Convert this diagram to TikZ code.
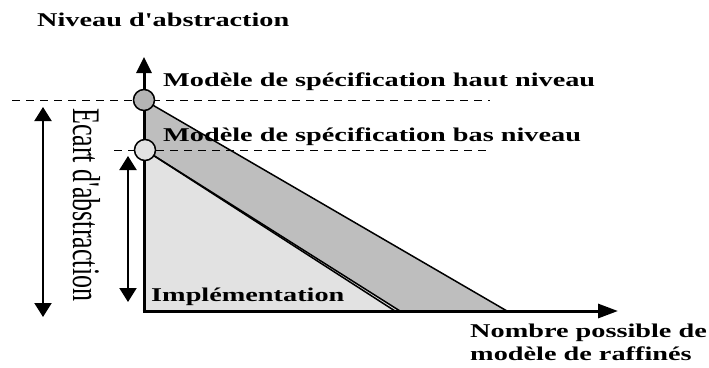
\documentclass[tikz,border=0pt]{standalone}
\usepackage{fontspec}
\setmainfont{Liberation Serif}[Ligatures=TeXOff]
\usetikzlibrary{arrows.meta}
\definecolor{darkfill}{HTML}{BEBEBE}
\definecolor{lightfill}{HTML}{E2E2E2}
\newcommand\widetext[1]{\scalebox{1.45}[1]{#1}}
\begin{document}
\begin{tikzpicture}[x=1pt,y=-1pt,
  lbl/.style={anchor=base west,inner sep=0pt,font=\fontsize{19.5}{22}\selectfont\bfseries},
  guide/.style={line width=1pt,dash pattern=on 8pt off 6pt},
  edge/.style={line width=1.5pt},
  axis/.style={line width=3pt,-{Triangle[length=16pt,width=15pt]}},
  span/.style={line width=2pt,{Triangle[length=14pt,width=17pt]}-{Triangle[length=14pt,width=17pt]}},
  level/.style={circle,draw,line width=1.5pt,minimum size=21pt,inner sep=0pt}]
\useasboundingbox (0,0) rectangle (709,367);

% key points
\coordinate (O)  at (144,311);
\coordinate (H)  at (144,100);
\coordinate (L)  at (145,150);
\coordinate (Hb) at (507,311);
\coordinate (Lb) at (395,311);
\coordinate (Lc) at (400,311);

% shaded refinement regions
\fill[darkfill] (H) -- (Hb) -- (O) -- cycle;
\fill[lightfill] (L) -- (Lc) -- (O) -- cycle;

% dashed level guides
\coordinate (g1a) at (12,100);  \coordinate (g1b) at (490,100);
\coordinate (g2a) at (114,150); \coordinate (g2b) at (490,150);
\draw[guide] (g1a) -- (g1b);
\draw[guide] (g2a) -- (g2b);

% slopes
\draw[edge] (H) -- (Hb);
\draw[edge] (L) -- (Lb);
\draw[edge] (L) -- (Lc);

% axes
\coordinate (Ytop) at (144,57);
\coordinate (Xend) at (618,311);
\draw[axis] (O) -- (Ytop);
\draw[axis,-{Triangle[length=20pt,width=14pt]}] ([xshift=-1.5pt]O) -- (Xend);

% level markers
\node[level,fill=darkfill!95!black] (hi) at (H) {};
\node[level,fill=lightfill] (lo) at (L) {};

% abstraction gaps
\coordinate (s1) at (43,107);  \coordinate (s2) at (43,317);
\coordinate (t1) at (128,156); \coordinate (t2) at (128,302);
\draw[span] (s1) -- (s2);
\draw[span] (t1) -- (t2);

% labels
\node[lbl] (yl) at (37,26.5) {\widetext{Niveau d'abstraction}};
\node[lbl] (hl) at (163,86.5) {\widetext{Modèle de spécification haut niveau}};
\node[lbl] (bl) at (163,141.5) {\widetext{Modèle de spécification bas niveau}};
\node[lbl] (il) at (151,301.5) {\widetext{Implémentation}};
\node[lbl] (x1) at (470,337) {\widetext{Nombre possible de}};
\node[lbl] (x2) at (470,360) {\widetext{modèle de raffinés}};
\node[anchor=base west,rotate=-90,inner sep=0pt,font=\fontsize{26}{30}\selectfont] (gap) at (73,108) {\scalebox{1}[1.5]{Ecart d'abstraction}};
\end{tikzpicture}
\end{document}
